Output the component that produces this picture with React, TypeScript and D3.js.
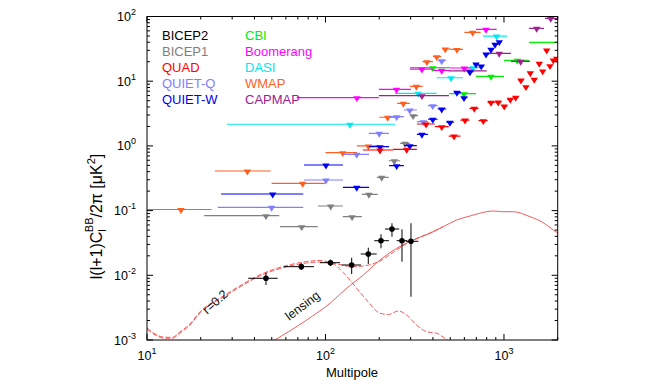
import React from "react";
import * as d3 from "d3";

// [ell, ellLow, ellHigh, upper-limit value]
const WMAP: number[][] = [
  [15.5, 10, 23.0, 0.104], [36.5, 24.0, 49.3, 0.409], [74.5, 49.9, 99.3, 0.264],
  [125, 100, 150, 0.785], [174, 150, 199, 1.0], [223, 200, 261, 2.77],
  [273, 252, 297, 4.55], [323, 297, 350, 8.34], [370, 350, 400, 20.0],
  [420, 400, 445, 23.9], [469, 450, 500, 31.5], [545, 500, 590, 31.0],
  [668, 600, 740, 57.0],
];
const BICEP1: number[][] = [
  [46.4, 20.9, 55.1, 0.0834], [73.6, 55.6, 90.4, 0.0564], [107, 90.8, 125, 0.1178],
  [141, 125, 160, 0.0805], [175, 160, 196, 0.1787], [206.5, 194, 226, 0.327],
  [243, 226, 262, 0.59], [279, 262, 297, 1.097], [310, 297, 330, 2.93],
];
const QUIETQ: number[][] = [
  [49.9, 24.9, 75.1, 0.1125], [100.6, 75.8, 125.3, 0.297], [149.6, 125.3, 175.3, 0.742],
  [200, 175, 227, 1.566], [250.5, 227, 275, 2.83], [297, 275, 325, 3.59],
  [353, 325, 375, 2.37], [399, 375, 425, 4.18], [448, 425, 475, 20.7],
];
const QUIETW: number[][] = [
  [50.6, 26.0, 75.1, 0.1805], [100.6, 75.8, 125.3, 0.507], [149.6, 125.3, 175.3, 0.229],
  [202, 175, 227, 0.972], [250.5, 227, 275, 0.494], [297, 275, 325, 1.007],
  [347, 325, 375, 1.511], [399, 375, 425, 2.58], [448, 425, 475, 3.72],
  [498, 475, 525, 2.32], [545, 525, 575, 6.74], [597, 575, 625, 5.56],
  [645, 625, 675, 14.0], [697, 675, 725, 18.4], [746, 725, 775, 17.2],
  [793, 775, 825, 26.3], [846, 825, 875, 31.1], [891, 875, 925, 37.2],
  [941, 925, 975, 40.8],
];
const QUAD: number[][] = [
  [202, 162, 239, 0.864], [285, 239, 325, 0.886], [366, 325, 410, 2.18],
  [448, 410, 490, 1.98], [525, 490, 570, 1.42], [605, 570, 640, 2.51],
  [682, 640, 720, 3.81], [766, 720, 810, 2.45], [846, 810, 890, 4.72],
  [929, 890, 970, 4.77], [1004, 970, 1045, 4.14], [1085, 1045, 1125, 5.25],
  [1163, 1125, 1205, 5.64], [1245, 1205, 1285, 10.4], [1328, 1285, 1365, 8.22],
  [1404, 1365, 1440, 13.5], [1478, 1440, 1525, 10.7], [1577, 1530, 1610, 18.9],
  [1648, 1610, 1690, 14.4], [1735, 1690, 1770, 30.3], [1810, 1770, 1850, 17.4],
  [1889, 1850, 1930, 21.3], [1973, 1930, 2010, 22.6],
];
const CBI: number[][] = [
  [399, 297, 498, 16.2], [597, 492, 697, 6.41], [846, 697, 1000, 11.9],
  [1187, 1000, 1380, 21.0], [2300, 1380, 3000, 39.9],
];
const DASI: number[][] = [
  [137, 28, 245, 2.16], [331, 245, 420, 6.5], [505, 420, 589, 11.3],
  [673, 589, 763, 16.2], [910, 763, 1039, 49.9],
];
const BOOMERANG: number[][] = [
  [150, 69, 199, 5.56], [250, 199, 301, 7.5], [347, 297, 400, 15.4],
  [448, 400, 498, 14.7], [599, 498, 659, 16.0], [793, 697, 910, 63.4],
];
const CAPMAP: number[][] = [
  [347, 199, 492, 5.97], [640, 492, 800, 14.4], [941, 800, 1094, 27.0],
  [1240, 1094, 1399, 20.3], [1525, 1380, 1675, 65.7], [1827, 1697, 2000, 93.8],
];
// BICEP2: [ell, ellLow, ellHigh, value, errLow, errHigh]
const BICEP2: number[][] = [
  [46.4, 36.9, 54.0, 0.00899, 0.00708, 0.01097],
  [73.2, 58.6, 86.2, 0.0136, 0.01208, 0.01533],
  [106.7, 93.2, 120.6, 0.01566, 0.01393, 0.01754],
  [140.2, 123.3, 158.1, 0.01442, 0.01047, 0.0187],
  [173.7, 157.5, 193.6, 0.02134, 0.01495, 0.02671],
  [204.6, 187.7, 226.8, 0.03426, 0.02615, 0.04301],
  [235.8, 215.4, 259, 0.05195, 0.0395, 0.0637],
  [268.3, 250.5, 287.3, 0.03426, 0.01622, 0.0514],
  [301.3, 282.5, 331, 0.03353, 0.00467, 0.0637],
];
// theory curves [ell, value]
const TENSOR: number[][] = [
  [10, 0.00148], [11.1, 0.0012], [12.3, 0.00107], [13.8, 0.00106], [15.3, 0.00128],
  [17.4, 0.0017], [19.8, 0.00262], [26.8, 0.00462], [33.2, 0.0066], [41.2, 0.00925],
  [51, 0.01178], [63.2, 0.01392], [78.5, 0.0155], [93.2, 0.01606], [110.6, 0.01495],
  [125.8, 0.011], [149.6, 0.0063], [170, 0.00415], [202, 0.00259], [225, 0.00248],
  [256, 0.00281], [285, 0.00243], [324, 0.0017], [369, 0.00134], [420, 0.00127],
  [467, 0.00106], [500, 0.00093], [560, 0.0006],
];
const TOTAL: number[][] = [
  [10, 0.00153], [11.1, 0.00124], [12.3, 0.00111], [13.8, 0.0011], [15.3, 0.00133],
  [17.4, 0.00177], [19.8, 0.00272], [26.8, 0.0048], [33.2, 0.00688], [41.2, 0.00965],
  [51, 0.0123], [63.2, 0.01455], [78.5, 0.0163], [93.2, 0.017], [106, 0.0158],
  [125.8, 0.0143], [140, 0.01358], [163, 0.01392], [202, 0.01664], [250, 0.0246],
  [297, 0.0331], [385, 0.0451], [457, 0.0567],
];
const LENSING: number[][] = [
  [40, 0.00064], [52.1, 0.001], [78.5, 0.00204], [105.9, 0.00369], [131.4, 0.0063],
  [162.8, 0.0101], [202, 0.01723], [250.5, 0.02615], [304, 0.03426], [385, 0.04456],
  [457, 0.0564], [543, 0.0716], [645, 0.0825], [800, 0.0961], [871, 0.0986],
  [991, 0.0961], [1128, 0.0961], [1399, 0.0805], [1661, 0.065], [1889, 0.0501],
  [2000, 0.0451],
];

const X_DECADES = [1, 2, 3];
const Y_DECADES = [-3, -2, -1, 0, 1, 2];
const LEGEND_COL1 = ["BICEP2", "BICEP1", "QUAD", "QUIET-Q", "QUIET-W"];
const LEGEND_COL2 = ["CBI", "Boomerang", "DASI", "WMAP", "CAPMAP"];

const COLORS: Record<string, string> = {
  BICEP2: "#000000", BICEP1: "#808080", QUAD: "#ff0000", "QUIET-Q": "#8080ff",
  "QUIET-W": "#0000f0", CBI: "#00ee00", Boomerang: "#ff00ff", DASI: "#00e8f0",
  WMAP: "#ff5f1f", CAPMAP: "#a0208f",
};

const FONT = "'Liberation Sans', Arial, Helvetica, sans-serif";

export default function App() {
  const W = 650, H = 380;
  const L = 147, R = 557.7, T = 16.5, B = 340;
  const x = d3.scaleLog().domain([10, 2000]).range([L, R]);
  const y = d3.scaleLog().domain([1e-3, 1e2]).range([B, T]);

  const line = d3.line<number[]>().x(d => x(d[0])).y(d => y(d[1])).curve(d3.curveMonotoneX);

  const limits = (name: string, data: number[][]) => {
    const c = COLORS[name];
    return (
      <g key={name}>
        {data.map((d, i) => {
          const px = x(d[0]), py = y(d[3]);
          return (
            <g key={i}>
              <line x1={x(d[1])} x2={x(d[2])} y1={py} y2={py} stroke={c} strokeWidth={1.2} />
              <path d={`M${px - 3.7},${py - 1.5}L${px + 3.7},${py - 1.5}L${px},${py + 4.4}Z`} fill={c} />
            </g>
          );
        })}
      </g>
    );
  };

  const xMinor: number[] = [];
  for (const dec of [10, 100, 1000]) for (let k = 2; k <= 9; k++) if (dec * k <= 2000) xMinor.push(dec * k);
  const yMinor: number[] = [];
  for (const dec of [1e-3, 1e-2, 1e-1, 1, 10]) for (let k = 2; k <= 9; k++) yMinor.push(dec * k);

  return (
    <svg width={W} height={H} style={{ position: "absolute", left: 0, top: 0, background: "#fff" }} fontFamily={FONT}>
      <defs>
        <clipPath id="plot"><rect x={L} y={T} width={R - L} height={B - T} /></clipPath>
      </defs>
      <g clipPath="url(#plot)">
        <path d={line(LENSING) || ""} fill="none" stroke="#f24a4a" strokeWidth={0.9} />
        <path d={line(TENSOR) || ""} fill="none" stroke="#f24a4a" strokeWidth={0.9} strokeDasharray="5,2" />
        <path d={line(TOTAL) || ""} fill="none" stroke="#f24a4a" strokeWidth={0.9} strokeDasharray="5,2" />
        {limits("WMAP", WMAP)}
        {limits("DASI", DASI)}
        {limits("CBI", CBI)}
        {limits("Boomerang", BOOMERANG)}
        {limits("CAPMAP", CAPMAP)}
        {limits("BICEP1", BICEP1)}
        {limits("QUIET-Q", QUIETQ)}
        {limits("QUIET-W", QUIETW)}
        {limits("QUAD", QUAD)}
        {BICEP2.map((d, i) => (
          <g key={i}>
            <line x1={x(d[1])} x2={x(d[2])} y1={y(d[3])} y2={y(d[3])} stroke="#000" strokeWidth={1} />
            <line x1={x(d[0])} x2={x(d[0])} y1={y(d[4])} y2={y(d[5])} stroke="#000" strokeWidth={1} />
            <circle cx={x(d[0])} cy={y(d[3])} r={2.8} fill="#000" />
          </g>
        ))}
      </g>

      {/* frame */}
      <rect x={L} y={T} width={R - L} height={B - T} fill="none" stroke="#000" strokeWidth={1} />
      {/* ticks */}
      {X_DECADES.map(e => {
        const px = x(Math.pow(10, e));
        return (
          <g key={"xm" + e}>
            <line x1={px} x2={px} y1={B} y2={B - 6} stroke="#000" />
            <line x1={px} x2={px} y1={T} y2={T + 6} stroke="#000" />
          </g>
        );
      })}
      {xMinor.map(v => (
        <g key={"xn" + v}>
          <line x1={x(v)} x2={x(v)} y1={B} y2={B - 3} stroke="#000" />
          <line x1={x(v)} x2={x(v)} y1={T} y2={T + 3} stroke="#000" />
        </g>
      ))}
      {Y_DECADES.map(e => {
        const py = y(Math.pow(10, e));
        return (
          <g key={"ym" + e}>
            <line x1={L} x2={L + 6} y1={py} y2={py} stroke="#000" />
            <line x1={R} x2={R - 6} y1={py} y2={py} stroke="#000" />
          </g>
        );
      })}
      {yMinor.map(v => (
        <g key={"yn" + v}>
          <line x1={L} x2={L + 3} y1={y(v)} y2={y(v)} stroke="#000" />
          <line x1={R} x2={R - 3} y1={y(v)} y2={y(v)} stroke="#000" />
        </g>
      ))}

      {/* tick labels */}
      {X_DECADES.map(e => (
        <text key={"xl" + e} x={x(Math.pow(10, e))} y={360} textAnchor="middle" fontSize={12.5} fill="#000">
          10<tspan dy={-6} fontSize={9}>{e}</tspan>
        </text>
      ))}
      {Y_DECADES.map(e => (
        <text key={"yl" + e} x={136} y={y(Math.pow(10, e)) + 4.5} textAnchor="end" fontSize={12.5} fill="#000">
          10<tspan dy={-6} fontSize={9}>{e < 0 ? "-" + -e : String(e)}</tspan>
        </text>
      ))}

      <text x={352} y={377} textAnchor="middle" fontSize={13} fill="#000">Multipole</text>

      <text transform="translate(102,216.5) rotate(-90)" textAnchor="middle" fontSize={16} fill="#000">
        l(l+1)C<tspan dy={4} fontSize={11}>l</tspan><tspan dx={-3} dy={-13} fontSize={11}>BB</tspan><tspan dy={9} fontSize={16}>/2π [μK</tspan><tspan dy={-7} fontSize={11}>2</tspan><tspan dy={7} fontSize={16}>]</tspan>
      </text>

      {/* legend */}
      {LEGEND_COL1.map((n, i) => (
        <text key={n} x={162} y={39.5 + i * 16} fontSize={13} fill={COLORS[n]}>{n}</text>
      ))}
      {LEGEND_COL2.map((n, i) => (
        <text key={n} x={245} y={39.5 + i * 16} fontSize={13} fill={COLORS[n]}>{n}</text>
      ))}

      {/* curve labels */}
      <text transform="translate(218,305) rotate(-42)" textAnchor="middle" fontSize={12.5} fill="#111">r=0.2</text>
      <text transform="translate(305,309) rotate(-37)" textAnchor="middle" fontSize={12.5} fill="#111">lensing</text>
    </svg>
  );
}
